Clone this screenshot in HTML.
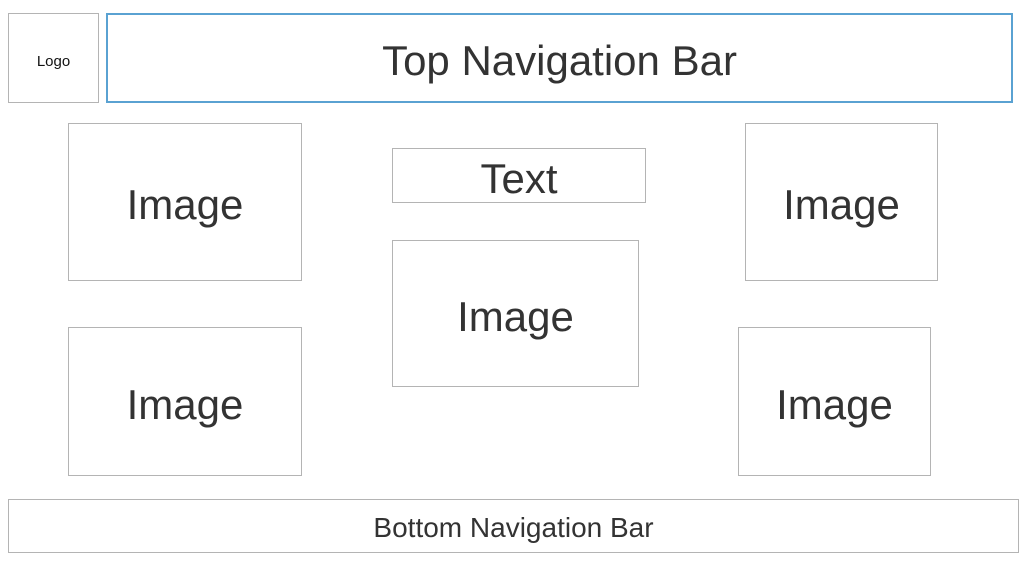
<!DOCTYPE html>
<html><head><style>
body{margin:0;width:1027px;height:572px;background:#fff;position:relative;overflow:hidden;font-family:"Liberation Sans",sans-serif;color:#333}
.b{position:absolute;box-sizing:border-box;border:1px solid #b4b4b4;display:flex;align-items:center;justify-content:center;padding-top:6px}
.i{font-size:42px}
</style></head><body>
<div class="b" style="left:8px;top:13px;width:91px;height:90px;font-size:15px;color:#111">Logo</div>
<div class="b" style="left:106px;top:13px;width:907px;height:90px;border:2px solid #5aa2d2;font-size:42px">Top Navigation Bar</div>
<div class="b i" style="left:68px;top:123px;width:234px;height:158px">Image</div>
<div class="b i" style="left:392px;top:148px;width:254px;height:55px">Text</div>
<div class="b i" style="left:745px;top:123px;width:193px;height:158px">Image</div>
<div class="b i" style="left:392px;top:240px;width:247px;height:147px">Image</div>
<div class="b i" style="left:68px;top:327px;width:234px;height:149px">Image</div>
<div class="b i" style="left:738px;top:327px;width:193px;height:149px">Image</div>
<div class="b" style="left:8px;top:499px;width:1011px;height:54px;font-size:28px;padding-top:4px">Bottom Navigation Bar</div>
</body></html>
